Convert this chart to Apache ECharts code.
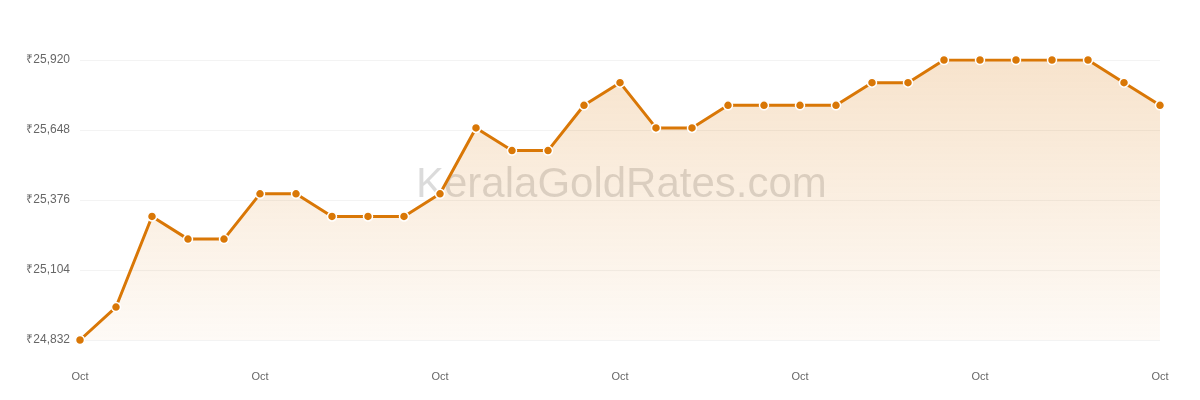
<!DOCTYPE html>
<html>
<head>
<meta charset="utf-8">
<script src="https://cdn.jsdelivr.net/npm/echarts@6/dist/echarts.min.js"></script>
<style>
  html, body { margin: 0; padding: 0; background: #fff; }
  #chart { width: 1200px; height: 400px; }
</style>
</head>
<body>
<div id="chart"></div>
<script>
// 日期 (只显示月份)
const days = ['Oct 1', 'Oct 3', 'Oct 4', 'Oct 6', 'Oct 7', 'Oct 8', 'Oct 9', 'Oct 10', 'Oct 11', 'Oct 13', 'Oct 14',
    'Oct 15', 'Oct 16', 'Oct 17', 'Oct 18', 'Oct 20', 'Oct 21', 'Oct 22', 'Oct 23', 'Oct 24', 'Oct 25',
    'Oct 26', 'Oct 27', 'Oct 28', 'Oct 29', 'Oct 30', 'Oct 31', 'Nov 1', 'Nov 2', 'Nov 3', 'Nov 4'];
const prices = [24832, 24960, 25312, 25224, 25224, 25400, 25400, 25312, 25312, 25312, 25400,
    25656, 25568, 25568, 25744, 25832, 25656, 25656, 25744, 25744, 25744,
    25744, 25832, 25832, 25920, 25920, 25920, 25920, 25920, 25832, 25744];
const yTicks = [24832, 25104, 25376, 25648, 25920];

function PaintChart() {
    const chart = echarts.init(document.getElementById('chart'));
    const option = {
        animation: false,
        grid: {
            top: 60,
            left: 80,
            right: 40,
            bottom: 60,
            containLabel: false
        },
        graphic: [
            {
                // 水印
                type: 'text',
                left: 416,
                top: 164,
                z: 0,
                style: {
                    text: 'KeralaGoldRates.com',
                    font: '42px "Liberation Sans", Arial, sans-serif',
                    fill: 'rgba(0, 0, 0, 0.14)'
                }
            }
        ],
        xAxis: {
            type: 'category',
            data: days,
            boundaryGap: false,
            axisLine: { show: false },
            axisTick: { show: false },
            axisLabel: {
                interval: 4,
                margin: 31,
                fontSize: 11,
                color: '#666',
                fontFamily: '"Liberation Sans", Arial, sans-serif',
                formatter: function (v) { return 'Oct'; }
            },
            splitLine: { show: false }
        },
        yAxis: {
            type: 'value',
            min: yTicks[0],
            max: yTicks[yTicks.length - 1],
            interval: yTicks[1] - yTicks[0],
            axisLine: { show: false },
            axisTick: { show: false },
            axisLabel: {
                margin: 10,
                fontSize: 12,
                color: '#666',
                fontFamily: '"Liberation Sans", Arial, sans-serif',
                formatter: function (v) { return '₹' + v.toLocaleString('en-IN'); }
            },
            splitLine: {
                lineStyle: {
                    color: '#f3f3f3'
                }
            }
        },
        series: [
            {
                type: 'line',
                data: prices,
                z: 3,
                symbol: 'circle',
                symbolSize: 9,
                itemStyle: {
                    color: '#d97706',
                    borderColor: '#fff',
                    borderWidth: 1.5
                },
                lineStyle: {
                    color: '#d97706',
                    width: 3
                },
                areaStyle: {
                    color: new echarts.graphic.LinearGradient(0, 0, 0, 1, [
                        { offset: 0, color: 'rgba(217, 119, 6, 0.29)' },
                        { offset: 1, color: 'rgba(217, 119, 6, 0.05)' }
                    ])
                }
            }
        ]
    };

    chart.setOption(option);
}
PaintChart();
</script>
</body>
</html>
